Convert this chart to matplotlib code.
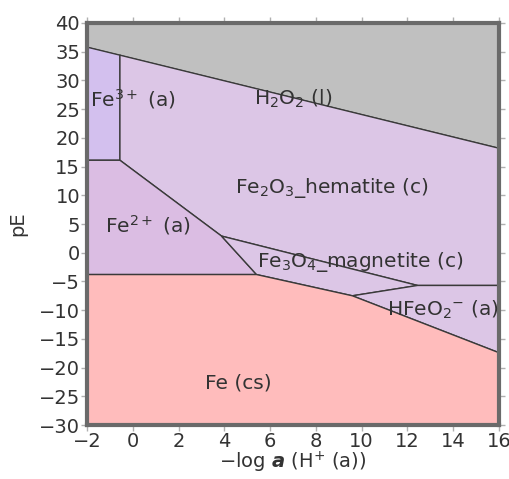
import matplotlib

matplotlib.use("Agg")

import matplotlib.pyplot as plt
from matplotlib.patches import Polygon

# eixos
X_LIM = (-2, 16)
Y_LIM = (-30, 40)
X_TICKS = list(range(-2, 17, 2))
Y_TICKS = list(range(-30, 41, 5))

PONTOS = {
    "A": (-2, 35.8),
    "B": (16, 18.2),
    "C": (-0.56, 34.4),
    "D": (-0.56, 16.1),
    "E": (-2, 16.1),
    "F": (3.88, 2.9),
    "G": (5.41, -3.8),
    "H": (-2, -3.8),
    "I": (9.6, -7.5),
    "J": (12.45, -5.7),
    "K": (16, -5.7),
    "L": (16, -17.4),
    "TL": (-2, 40),
    "TR": (16, 40),
    "BL": (-2, -30),
    "BR": (16, -30),
}

REGIOES = ["H2O2", "Fe3", "hematita", "Fe2", "magnetita", "HFeO2", "Fe"]
VERTICES = {
    "H2O2": ["A", "TL", "TR", "B"],
    "Fe3": ["E", "A", "C", "D"],
    "hematita": ["C", "B", "K", "J", "F", "D"],
    "Fe2": ["E", "D", "F", "G", "H"],
    "magnetita": ["F", "J", "I", "G"],
    "HFeO2": ["I", "J", "K", "L"],
    "Fe": ["H", "G", "I", "L", "BR", "BL"],
}
CORES = {
    "H2O2": "#c0c0c0",
    "Fe3": "#d3c0ee",
    "hematita": "#dcc6e6",
    "Fe2": "#dbbde3",
    "magnetita": "#dcc6e6",
    "HFeO2": "#dcc6e6",
    "Fe": "#ffbcbc",
}
ROTULOS = {
    "H2O2": r"H$_2$O$_2$ (l)",
    "Fe3": r"Fe$^{3+}$ (a)",
    "hematita": r"Fe$_2$O$_3$_hematite (c)",
    "Fe2": r"Fe$^{2+}$ (a)",
    "magnetita": r"Fe$_3$O$_4$_magnetite (c)",
    "HFeO2": r"HFeO$_2$$^{-}$ (a)",
    "Fe": "Fe (cs)",
}
POS_ROTULOS = {
    "H2O2": (5.3, 26.8),
    "Fe3": (-1.85, 26.8),
    "hematita": (4.45, 11.3),
    "Fe2": (-1.2, 4.8),
    "magnetita": (5.45, -1.6),
    "HFeO2": (11.1, -10.0),
    "Fe": (3.15, -22.7),
}

fig = plt.figure(figsize=(5.1, 4.79), dpi=100)
ax = fig.add_axes([0.1706, 0.1127, 0.8074, 0.8393])

for r in REGIOES:
    xy = [PONTOS[p] for p in VERTICES[r]]
    ax.add_patch(Polygon(xy, closed=True, facecolor=CORES[r],
                         edgecolor="#3a3a3a", linewidth=1.0))

for r in REGIOES:
    x, y = POS_ROTULOS[r]
    ax.text(x, y, ROTULOS[r], fontsize=14.5, color="#333333",
            ha="left", va="center")

ax.set_xlim(*X_LIM)
ax.set_ylim(*Y_LIM)
ax.set_xticks(X_TICKS)
ax.set_yticks(Y_TICKS)
ax.set_xticklabels([str(t).replace("-", "\u2212") for t in X_TICKS])
ax.set_yticklabels([str(t).replace("-", "\u2212") for t in Y_TICKS])
ax.tick_params(direction="out", length=4, width=1, color="#b0b0b0",
               labelsize=14, labelcolor="#333333", top=True, right=True,
               labeltop=False, labelright=False, pad=1)
for s in ax.spines.values():
    s.set_linewidth(3)
    s.set_color("#6a6a6a")

ax.set_xlabel(r"$-$log $\mathbfit{a}$ (H$^{+}$ (a))", fontsize=14,
              color="#333333", labelpad=-1)
ax.set_ylabel("pE", fontsize=14, color="#333333", labelpad=8)

fig.savefig("out.png", dpi=100)
